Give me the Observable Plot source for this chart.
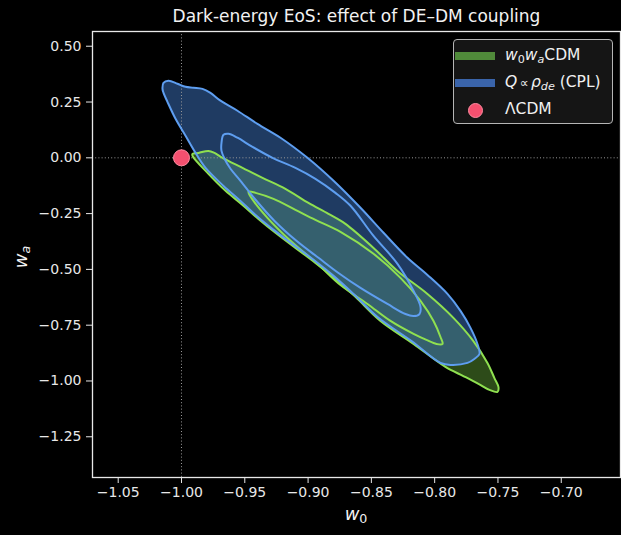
<!DOCTYPE html>
<html>
<head>
<meta charset="utf-8">
<script src="https://cdn.jsdelivr.net/npm/d3@7"></script>
<script src="https://cdn.jsdelivr.net/npm/@observablehq/plot@0.6"></script>
<style>
  html, body { margin: 0; padding: 0; background: #000; }
  #wrap { position: relative; width: 621px; height: 535px; background: #000; overflow: hidden; font-family: "DejaVu Sans", sans-serif; }
  #edge { position: absolute; left: 0; top: 140px; width: 2px; height: 395px; background: linear-gradient(to bottom, rgba(47,138,230,0), #2f8ae6 25px); }
  #legend { position: absolute; left: 453px; top: 39px; width: 160px; height: 85px; box-sizing: border-box;
            border: 1px solid #b5b5b5; border-radius: 4px; background: #151515; color: #f0f0f0; font-size: 15.5px; }
  #legend .row { position: absolute; left: 0; height: 20px; width: 100%; }
  #legend .patch { position: absolute; left: 1px; width: 40px; height: 8px; top: 6px; }
  #legend .dot { position: absolute; left: 14px; top: 3px; width: 15px; height: 15px; border-radius: 50%; box-sizing: border-box; }
  #legend .lab { position: absolute; left: 51px; top: -1px; white-space: nowrap; line-height: 20px; }
  #legend sub { font-size: 0.72em; vertical-align: -0.25em; line-height: 0; }
  #legend .rel { padding: 0 0.2em; font-size: 0.8em; }
</style>
</head>
<body>
<div id="wrap"><div id="edge"></div></div>
<script>
// ---- data (w0, wa) ----
const titleText = "Dark-energy EoS: effect of DE–DM coupling";
const xTicks = [-1.05, -1.00, -0.95, -0.90, -0.85, -0.80, -0.75, -0.70];
const yTicks = [0.50, 0.25, 0.00, -0.25, -0.50, -0.75, -1.00, -1.25];

// w0waCDM, outer (95%) contour
const greenOuter = [
  [-0.9913, 0.018], [-0.9866, 0.022], [-0.9787, 0.031], [-0.9739, 0.022], [-0.9676, 0.000],
  [-0.9518, -0.045], [-0.9360, -0.090], [-0.9179, -0.139], [-0.8997, -0.202], [-0.8839, -0.251],
  [-0.8705, -0.296], [-0.8483, -0.404], [-0.8294, -0.507], [-0.8057, -0.610], [-0.7852, -0.717],
  [-0.7694, -0.821], [-0.7583, -0.919], [-0.7528, -0.987], [-0.7496, -1.027], [-0.7504, -1.049],
  [-0.7567, -1.040], [-0.7654, -1.013], [-0.7773, -0.978], [-0.7915, -0.937], [-0.8167, -0.834],
  [-0.8428, -0.731], [-0.8626, -0.623], [-0.8784, -0.543], [-0.8942, -0.471], [-0.9100, -0.404],
  [-0.9258, -0.336], [-0.9392, -0.274], [-0.9518, -0.211], [-0.9652, -0.148], [-0.9787, -0.072],
  [-0.9913, 0.009]
];
// w0waCDM, inner (68%) contour
const greenInner = [
  [-0.9471, -0.152], [-0.9415, -0.157], [-0.9273, -0.184], [-0.9100, -0.233], [-0.8942, -0.278],
  [-0.8744, -0.332], [-0.8483, -0.430], [-0.8270, -0.538], [-0.8112, -0.641], [-0.8009, -0.731],
  [-0.7954, -0.803], [-0.7938, -0.834], [-0.7986, -0.834], [-0.8065, -0.816], [-0.8167, -0.789],
  [-0.8349, -0.731], [-0.8531, -0.655], [-0.8744, -0.570], [-0.8926, -0.475], [-0.9139, -0.372],
  [-0.9321, -0.269], [-0.9431, -0.193]
];
// Q ∝ ρde (CPL), outer (95%) contour
const blueOuter = [
  [-1.0150, 0.309], [-1.0142, 0.336], [-1.0103, 0.345], [-1.0032, 0.332], [-0.9968, 0.318],
  [-0.9905, 0.314], [-0.9834, 0.309], [-0.9771, 0.291], [-0.9692, 0.256], [-0.9558, 0.211],
  [-0.9400, 0.152], [-0.9218, 0.090], [-0.9005, 0.000], [-0.8799, -0.103], [-0.8586, -0.224],
  [-0.8404, -0.336], [-0.8215, -0.448], [-0.8057, -0.525], [-0.7899, -0.610], [-0.7796, -0.686],
  [-0.7717, -0.762], [-0.7662, -0.834], [-0.7646, -0.879], [-0.7686, -0.901], [-0.7741, -0.919],
  [-0.7875, -0.928], [-0.7954, -0.919], [-0.8183, -0.821], [-0.8444, -0.717], [-0.8641, -0.610],
  [-0.8799, -0.529], [-0.8957, -0.457], [-0.9115, -0.390], [-0.9273, -0.323], [-0.9408, -0.260],
  [-0.9534, -0.193], [-0.9668, -0.126], [-0.9810, -0.045], [-0.9889, 0.022], [-0.9968, 0.099],
  [-1.0047, 0.175], [-1.0111, 0.251], [-1.0142, 0.291]
];
// Q ∝ ρde (CPL), inner (68%) contour
const blueInner = [
  [-0.9684, 0.067], [-0.9668, 0.103], [-0.9629, 0.108], [-0.9558, 0.090], [-0.9439, 0.049],
  [-0.9281, 0.000], [-0.9100, -0.045], [-0.8942, -0.094], [-0.8784, -0.157], [-0.8665, -0.215],
  [-0.8483, -0.350], [-0.8294, -0.475], [-0.8167, -0.596], [-0.8112, -0.668], [-0.8120, -0.700],
  [-0.8167, -0.709], [-0.8231, -0.700], [-0.8373, -0.655], [-0.8586, -0.583], [-0.8760, -0.516],
  [-0.8918, -0.448], [-0.9092, -0.372], [-0.9265, -0.283], [-0.9415, -0.188], [-0.9534, -0.103],
  [-0.9613, -0.049], [-0.9660, -0.004], [-0.9684, 0.031]
];
const lcdm = [[-1.0, 0.0]];
const legendLabels = [
  "<i>w</i><sub>0</sub><i>w</i><sub><i>a</i></sub>CDM",
  "<i>Q</i><span class=\"rel\">∝</span><i>ρ</i><sub><i>de</i></sub> (CPL)",
  "ΛCDM"
];

// ---- styling ----
const greenFill = "rgb(90,150,50)", greenLine = "#8fe050";
const blueFill = "rgb(62,118,196)", blueLine = "#5e9ef0";
const pinkDot = "#f4506f";
const fg = "#e8e8e8";
const X = d => d[0], Y = d => d[1];

const plot = Plot.plot({
  width: 621, height: 535,
  marginLeft: 92, marginRight: 1, marginTop: 31, marginBottom: 58,
  style: { background: "black", color: fg, fontFamily: "DejaVu Sans, sans-serif", fontSize: "14px", overflow: "visible" },
  x: { domain: [-1.0703, -0.6532] },
  y: { domain: [-1.4325, 0.566] },
  marks: [
    Plot.line(greenOuter, { x: X, y: Y, curve: "catmull-rom-closed", fill: greenFill, fillOpacity: 0.5, stroke: "none" }),
    Plot.line(blueOuter, { x: X, y: Y, curve: "catmull-rom-closed", fill: blueFill, fillOpacity: 0.5, stroke: "none" }),
    Plot.ruleX([-1], { stroke: "#9a9a9a", strokeWidth: 1, strokeDasharray: "1,2.2" }),
    Plot.ruleY([0], { stroke: "#9a9a9a", strokeWidth: 1, strokeDasharray: "1,2.2" }),
    Plot.line(greenOuter, { x: X, y: Y, curve: "catmull-rom-closed", stroke: greenLine, strokeWidth: 2 }),
    Plot.line(greenInner, { x: X, y: Y, curve: "catmull-rom-closed", stroke: greenLine, strokeWidth: 2 }),
    Plot.line(blueOuter, { x: X, y: Y, curve: "catmull-rom-closed", stroke: blueLine, strokeWidth: 2 }),
    Plot.line(blueInner, { x: X, y: Y, curve: "catmull-rom-closed", stroke: blueLine, strokeWidth: 2 }),
    Plot.dot(lcdm, { x: X, y: Y, r: 8, fill: pinkDot, stroke: "#ff8aa0", strokeWidth: 1 }),
    Plot.frame({ stroke: fg, strokeWidth: 1.3 }),
    Plot.axisX({ ticks: xTicks, tickFormat: d3.format(".2f"), tickSize: 6, tickPadding: 4, label: null, fontSize: 14 }),
    Plot.axisY({ ticks: yTicks, tickFormat: d3.format(".2f"), tickSize: 6, tickPadding: 5, label: null, fontSize: 14 }),
    Plot.text([titleText], { text: d => d, frameAnchor: "top", dy: -15, lineAnchor: "middle", fontSize: 17, fill: "#f2f2f2" })
  ]
});

const wrap = document.getElementById("wrap");
plot.style.position = "absolute";
plot.style.left = "0px";
plot.style.top = "0px";
wrap.appendChild(plot);

// axis labels with math-style subscripts
const svg = d3.select(plot);
const xl = svg.append("text").attr("x", 356).attr("y", 520).attr("text-anchor", "middle")
  .attr("fill", "#f2f2f2").attr("font-size", 18).attr("font-family", "DejaVu Sans, sans-serif");
xl.append("tspan").attr("font-style", "italic").text("w");
xl.append("tspan").attr("font-size", "0.7em").attr("dy", "0.22em").text("0");

const yl = svg.append("text").attr("transform", "translate(27,257) rotate(-90)").attr("text-anchor", "middle")
  .attr("fill", "#f2f2f2").attr("font-size", 18).attr("font-family", "DejaVu Sans, sans-serif");
yl.append("tspan").attr("font-style", "italic").text("w");
yl.append("tspan").attr("font-style", "italic").attr("font-size", "0.7em").attr("dy", "0.22em").text("a");

// legend
const legend = document.createElement("div");
legend.id = "legend";
const rows = [
  { kind: "patch", color: "rgb(80,138,58)", top: 6 },
  { kind: "patch", color: "rgb(58,100,170)", top: 33 },
  { kind: "dot", color: pinkDot, top: 60 }
];
rows.forEach((r, i) => {
  const row = document.createElement("div");
  row.className = "row";
  row.style.top = r.top + "px";
  const sym = document.createElement("div");
  if (r.kind === "patch") { sym.className = "patch"; sym.style.background = r.color; }
  else { sym.className = "dot"; sym.style.background = r.color; sym.style.border = "1px solid #ff8aa0"; }
  row.appendChild(sym);
  const lab = document.createElement("div");
  lab.className = "lab";
  lab.innerHTML = legendLabels[i];
  row.appendChild(lab);
  legend.appendChild(row);
});
wrap.appendChild(legend);
</script>
</body>
</html>
